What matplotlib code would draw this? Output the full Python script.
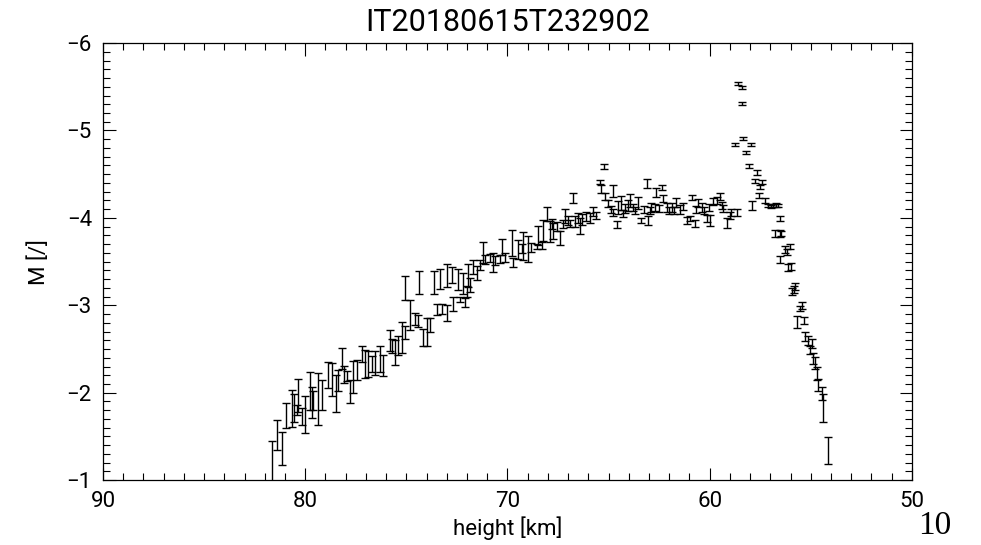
import numpy as np
import matplotlib
matplotlib.use('Agg')
import matplotlib.pyplot as plt
from matplotlib.ticker import MultipleLocator

# values: height [km], M, error
height = [
    81.66, 81.38, 81.16, 80.97, 80.67, 80.54, 80.42, 80.34, 80.18, 80.01,
    79.77, 79.68, 79.60, 79.35, 79.16, 78.86, 78.70, 78.48, 78.37, 78.20,
    78.07, 77.95, 77.79, 77.62, 77.46, 77.20, 77.05, 76.88, 76.68, 76.55,
    76.30, 76.14, 75.81, 75.73, 75.56, 75.23,
    # upper track 75 - 68
    75.07, 74.38, 73.62, 73.34, 72.98, 72.73, 72.43, 72.19, 71.94, 71.69,
    71.20, 70.70, 70.26, 69.79, 69.22, 68.97, 68.48, 68.23,
    # lower track 75.5 - 68
    75.41, 75.07, 74.82, 74.57, 74.41, 74.16, 74.00, 73.83, 73.50, 73.26,
    73.00, 72.68, 72.35, 72.10, 72.02, 71.85, 71.52, 71.36, 71.11, 70.87,
    70.62, 70.37, 70.12, 69.71, 69.47, 69.30, 68.81, 68.56, 68.31,
    # plateau 68 - 58.6
    68.06, 67.90, 67.82, 67.73, 67.57, 67.40, 67.25, 67.16, 67.00, 66.92,
    66.75, 66.67, 66.50, 66.42, 66.30, 66.10, 65.92, 65.75, 65.60, 65.43,
    65.35, 65.18, 65.02, 64.90, 64.80, 64.77, 64.60, 64.52, 64.36, 64.28,
    64.19, 64.03, 63.94, 63.80, 63.70, 63.54, 63.37, 63.25, 63.12, 63.04,
    62.95, 62.88, 62.70, 62.63, 62.50, 62.38, 62.30, 62.13, 62.00, 61.88,
    61.75, 61.64, 61.47, 61.30, 61.14, 60.98, 60.89, 60.73, 60.65, 60.56,
    60.40, 60.30, 60.15, 60.05, 59.99, 59.84, 59.62, 59.49, 59.37, 59.33,
    59.16, 59.00, 58.92, 58.67, 65.22,
    # peak and fall-off
    58.62, 58.42, 58.42, 58.37, 58.75, 57.96, 58.22, 58.04, 57.65, 57.88,
    57.76, 57.43, 57.52, 57.55, 57.27, 57.10, 56.98, 56.86, 56.70, 56.61,
    56.53, 56.77, 56.53, 56.45, 56.28, 56.03, 56.18, 56.53, 56.00, 56.10,
    55.79, 55.95, 55.85, 55.45, 55.52, 55.70, 55.35, 55.29, 55.13, 54.96,
    55.05, 54.88, 54.80, 54.71, 54.63, 54.46, 54.38, 54.17,
]
m_value = [
    -1.22, -1.52, -1.36, -1.74, -1.82, -1.83, -1.80, -1.97, -1.73, -1.75,
    -2.02, -1.89, -1.91, -1.93, -1.97, -2.20, -2.15, -1.99, -2.14, -2.39,
    -2.21, -2.19, -2.01, -2.18, -2.26, -2.44, -2.33, -2.33, -2.33, -2.34,
    -2.39, -2.31, -2.60, -2.53, -2.46, -2.63,
    -3.20, -3.26, -3.26, -3.30, -3.34, -3.35, -3.29, -3.25, -3.34, -3.44,
    -3.60, -3.49, -3.67, -3.71, -3.68, -3.64, -3.80, -3.86,
    -2.54, -2.69, -2.89, -2.84, -2.82, -2.63, -2.70, -2.78, -2.95, -2.96,
    -2.91, -3.02, -3.07, -3.03, -3.16, -3.23, -3.37, -3.46, -3.52, -3.54,
    -3.51, -3.53, -3.55, -3.49, -3.64, -3.65, -3.66, -3.67, -3.68,
    -4.05, -3.84, -3.93, -3.85, -3.90, -3.77, -3.93, -4.02, -3.97, -3.94,
    -4.23, -3.96, -4.00, -3.91, -3.98, -4.02, -4.00, -4.07, -4.03, -4.41,
    -4.33, -4.24, -4.16, -4.10, -4.06, -4.31, -3.92, -4.12, -4.17, -4.05,
    -4.11, -4.14, -4.20, -4.12, -4.09, -4.17, -3.97, -4.10, -4.39, -3.97,
    -4.08, -4.12, -4.12, -4.29, -4.11, -4.35, -4.22, -4.12, -4.08, -4.12,
    -4.09, -4.18, -4.10, -4.13, -3.97, -3.99, -4.23, -3.94, -4.10, -4.17,
    -4.12, -4.09, -3.99, -4.12, -3.97, -4.19, -4.20, -4.24, -4.14, -4.11,
    -3.94, -4.03, -4.06, -4.06, -4.59,
    -5.54, -5.49, -5.31, -4.91, -4.84, -4.84, -4.75, -4.59, -4.52, -4.14,
    -4.42, -4.41, -4.35, -4.26, -4.20, -4.14, -4.13, -4.14, -4.15, -4.14,
    -3.99, -3.82, -3.82, -3.82, -3.64, -3.67, -3.61, -3.52, -3.44, -3.43,
    -3.21, -3.16, -3.18, -3.00, -2.96, -2.81, -2.83, -2.64, -2.60, -2.56,
    -2.49, -2.39, -2.34, -2.22, -2.09, -1.99, -1.83, -1.34,
]
m_error = [
    0.23, 0.17, 0.19, 0.14, 0.21, 0.16, 0.06, 0.19, 0.10, 0.21,
    0.22, 0.18, 0.11, 0.30, 0.17, 0.15, 0.19, 0.21, 0.12, 0.12,
    0.10, 0.06, 0.13, 0.18, 0.12, 0.09, 0.16, 0.15, 0.09, 0.14,
    0.15, 0.12, 0.12, 0.08, 0.14, 0.18,
    0.14, 0.13, 0.13, 0.11, 0.13, 0.09, 0.12, 0.12, 0.13, 0.08,
    0.12, 0.11, 0.09, 0.15, 0.16, 0.15, 0.11, 0.12,
    0.11, 0.07, 0.17, 0.07, 0.07, 0.10, 0.16, 0.08, 0.06, 0.06,
    0.09, 0.08, 0.03, 0.05, 0.06, 0.08, 0.08, 0.06, 0.05, 0.05,
    0.05, 0.05, 0.05, 0.05, 0.11, 0.05, 0.05, 0.03, 0.04,
    0.08, 0.12, 0.06, 0.09, 0.05, 0.08, 0.05, 0.08, 0.05, 0.04,
    0.06, 0.06, 0.06, 0.09, 0.06, 0.05, 0.06, 0.05, 0.04, 0.02,
    0.05, 0.04, 0.04, 0.04, 0.04, 0.07, 0.04, 0.07, 0.08, 0.04,
    0.05, 0.06, 0.07, 0.04, 0.04, 0.07, 0.03, 0.04, 0.05, 0.05,
    0.04, 0.05, 0.04, 0.05, 0.04, 0.03, 0.04, 0.05, 0.04, 0.05,
    0.04, 0.05, 0.05, 0.04, 0.04, 0.03, 0.03, 0.04, 0.04, 0.05,
    0.05, 0.04, 0.04, 0.04, 0.06, 0.04, 0.04, 0.04, 0.04, 0.04,
    0.06, 0.04, 0.04, 0.04, 0.03,
    0.015, 0.015, 0.015, 0.02, 0.02, 0.02, 0.02, 0.025, 0.025, 0.05,
    0.025, 0.025, 0.025, 0.03, 0.03, 0.02, 0.02, 0.02, 0.02, 0.02,
    0.03, 0.04, 0.04, 0.03, 0.04, 0.03, 0.03, 0.04, 0.04, 0.04,
    0.04, 0.04, 0.04, 0.04, 0.03, 0.07, 0.04, 0.05, 0.05, 0.05,
    0.05, 0.06, 0.07, 0.08, 0.07, 0.07, 0.16, 0.15,
]

plt.rcParams['font.family'] = ['Roboto', 'DejaVu Sans']

fig = plt.figure(figsize=(9.81, 5.45), dpi=100)
ax = fig.add_axes([0.105, 0.119, 0.8245, 0.802])

ax.errorbar(height, m_value, yerr=m_error, fmt='none', ecolor='black',
            elinewidth=1.0, capsize=3, capthick=1.0)

ax.set_xlim(90, 50)
ax.set_ylim(-1, -6)
ax.xaxis.set_major_locator(MultipleLocator(10))
ax.xaxis.set_minor_locator(MultipleLocator(1))
ax.yaxis.set_major_locator(MultipleLocator(1))
ax.yaxis.set_minor_locator(MultipleLocator(0.1))
ax.tick_params(which='both', direction='in', top=True, right=True,
               labelsize=16, width=0.8, pad=8)
ax.tick_params(which='major', length=9)
ax.tick_params(which='minor', length=5)
for s in ax.spines.values():
    s.set_linewidth(0.9)

ax.set_title('IT20180615T232902', fontsize=22, pad=9)
ax.set_xlabel('height [km]', fontsize=16, labelpad=3)
ax.set_ylabel('M [/]', fontsize=16, labelpad=12)

fig.text(0.953, 0.035, '10', fontsize=24, family='Liberation Serif',
         ha='center', va='center')

fig.savefig('out.png', dpi=100)
